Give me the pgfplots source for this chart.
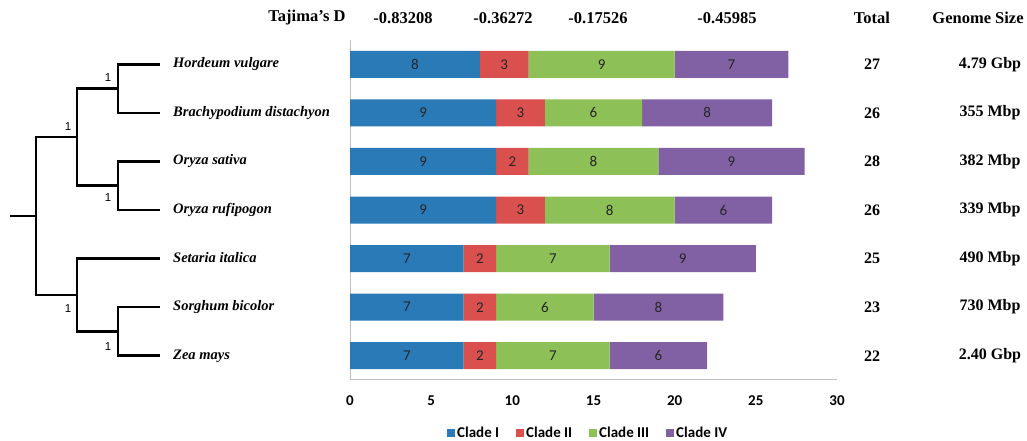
\documentclass[border=0pt]{standalone}
\usepackage{pgfplots}
\pgfplotsset{compat=1.18}
\usepackage{pgfplotstable}
\usepackage{fontspec}
\setmainfont{Liberation Serif}
\newfontfamily\calibri{Carlito}
\newfontfamily\arial{Liberation Sans}

\definecolor{cladeI}{HTML}{2A7AB8}
\definecolor{cladeII}{HTML}{D9504E}
\definecolor{cladeIII}{HTML}{8DC057}
\definecolor{cladeIV}{HTML}{8161A3}
\definecolor{axisgray}{HTML}{BFBFBF}

% Number of genes in each clade, per species (row 6 = top, row 0 = bottom)
\pgfplotstableread{
pos c1 c2 c3 c4
6 8 3 9 7
5 9 3 6 8
4 9 2 8 9
3 9 3 8 6
2 7 2 7 9
1 7 2 6 8
0 7 2 7 6
}\cladecounts

% value label inside its stacked segment
\pgfplotsset{
  segment labels/.style={
    nodes near coords,
    point meta=explicit,
    every node near coord/.style={
      anchor=center,
      font=\calibri\fontsize{15}{15}\selectfont, text=black!85},
  },
}

\newcommand{\headfont}{\bfseries\fontsize{16.5}{17}\selectfont}
\newcommand{\colfont}{\bfseries\fontsize{16}{17}\selectfont}

\begin{document}
\begin{tikzpicture}[x=1pt,y=1pt]
\path (0,0) rectangle (1027,441);
\begin{axis}[
  at={(350pt,61pt)}, anchor=south west,
  scale only axis, width=487pt, height=340pt,
  xmin=0, xmax=30, ymin=-0.5, ymax=6.5,
  xbar stacked, bar width=27pt,
  /pgf/number format/assume math mode=true,
  axis x line*=bottom, axis y line*=left,
  axis line style={axisgray, line width=1pt},
  xtick={0,5,...,30},
  ytick={0,...,6},
  yticklabels={Zea mays, Sorghum bicolor, Setaria italica, Oryza rufipogon,
    Oryza sativa, Brachypodium distachyon, Hordeum vulgare},
  major tick length=0pt,
  xticklabel style={font=\calibri\bfseries\fontsize{15}{15}\selectfont,
    anchor=base, yshift=-26pt},
  yticklabel style={font=\bfseries\itshape\fontsize{14.5}{16}\selectfont,
    anchor=west, xshift=-177pt, inner xsep=0pt, text height=10pt, text depth=3pt},
  clip=false,
  legend columns=4,
  legend style={draw=none, at={(0.489,-0.156)}, anchor=center, inner sep=1pt,
    font=\calibri\bfseries\fontsize{15}{15}\selectfont,
    /tikz/every even column/.append style={column sep=15pt}},
  legend image code/.code={\fill[#1] (0pt,-4pt) rectangle (8pt,4pt);},
]
\addplot[fill=cladeI, draw=none, segment labels]
  table[x=c1, y=pos, meta=c1] {\cladecounts};
\addplot[fill=cladeII, draw=none, segment labels]
  table[x=c2, y=pos, meta=c2] {\cladecounts};
\addplot[fill=cladeIII, draw=none, segment labels]
  table[x=c3, y=pos, meta=c3] {\cladecounts};
\addplot[fill=cladeIV, draw=none, segment labels]
  table[x=c4, y=pos, meta=c4] {\cladecounts};
\legend{Clade I, Clade II, Clade III, Clade IV}
\end{axis}

% column headers
\node[font=\headfont] at (307,423) {Tajima’s D};
\node[font=\headfont] at (403,423) {-0.83208};
\node[font=\headfont] at (503,423) {-0.36272};
\node[font=\headfont] at (598,423) {-0.17526};
\node[font=\headfont] at (727,423) {-0.45985};
\node[font=\headfont] at (872,423) {Total};
\node[font=\headfont] at (978,423) {Genome Size};

% totals and genome sizes
\foreach \yy/\tot/\gs in {376.71/27/4.79 Gbp, 328.14/26/355 Mbp, 279.57/28/382 Mbp,
    231/26/339 Mbp, 182.43/25/490 Mbp, 133.86/23/730 Mbp, 85.29/22/2.40 Gbp} {
  \node[font=\colfont] at (872,\yy) {\tot};
  \node[font=\colfont] at (990,\yy) {\gs};
}

% species tree
\begin{scope}[line width=2.7pt, line join=miter]
  \draw (160,376.71) -| (118,328.14) -- (160,328.14);
  \draw (160,279.57) -| (118,231) -- (160,231);
  \draw (118,352.43) -| (77,255.29) -- (118,255.29);
  \draw (160,133.86) -| (118,85.29) -- (160,85.29);
  \draw (160,182.43) -| (77,109.57) -- (118,109.57);
  \draw (77,303.86) -| (36,146) -- (77,146);
  \draw (10,224.93) -- (36,224.93);
\end{scope}
\begin{scope}[font=\arial\fontsize{11.5}{12}\selectfont]
  \node at (108,363) {1};
  \node at (68,314) {1};
  \node at (108,243) {1};
  \node at (68,132) {1};
  \node at (108,94) {1};
\end{scope}

\pgfresetboundingbox
\path[use as bounding box] (0,0) rectangle (1027,441);
\end{tikzpicture}
\end{document}
